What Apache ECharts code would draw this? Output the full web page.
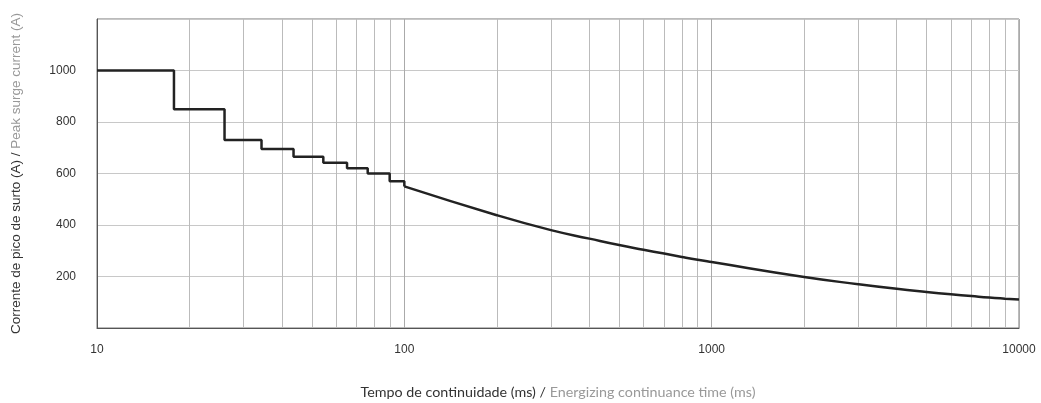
<!DOCTYPE html>
<html>
<head>
<meta charset="utf-8">
<script src="https://cdn.jsdelivr.net/npm/echarts@6/dist/echarts.min.js"></script>
<style>
  html, body { margin: 0; padding: 0; background: #fff; }
  #chart { width: 1041px; height: 403px; }
</style>
</head>
<body>
<div id="chart"></div>
<script>
// staircase part (ms -> A)
const stepTimes = [10, 17.8, 26, 34.3, 43.6, 54.5, 65.1, 76, 89.6, 100];
const stepCurrents = [1000, 850, 730, 695, 665, 642, 620, 600, 570, 550];

// smooth decay after 100 ms
const curveTimes = [100, 200, 300, 400, 500, 600, 700, 800, 900, 1000, 2000, 3000, 4000, 5000, 6000, 7000, 8000, 9000, 10000];
const curveCurrents = [550, 438, 380, 347, 322, 304, 289, 276, 265, 256, 198, 170, 152, 140, 131, 124, 118, 114, 111];

// minor log gridlines
const minorLines = [20, 30, 40, 50, 60, 70, 80, 90, 200, 300, 400, 500, 600, 700, 800, 900,
  2000, 3000, 4000, 5000, 6000, 7000, 8000, 9000];

const xName = 'Tempo de continuidade (ms)';
const xNameEn = 'Energizing continuance time (ms)';
const yName = 'Corrente de pico de surto (A)';
const yNameEn = 'Peak surge current (A)';

const chart = echarts.init(document.getElementById('chart'));
chart.setOption({
  animation: false,
  grid: { left: 97, right: 22, top: 19, bottom: 75, show: true, borderColor: '#777', borderWidth: 1,
    containLabel: false, outerBoundsMode: 'none' },
  xAxis: {
    type: 'log', logBase: 10, min: 10, max: 10000,
    name: '{a|' + xName + ' / }{b|' + xNameEn + '}',
    nameLocation: 'middle', nameGap: 57,
    nameTextStyle: {
      rich: {
        a: { fontFamily: 'Lato', fontSize: 14.3, color: '#333' },
        b: { fontFamily: 'Lato', fontSize: 14.3, color: '#999' }
      }
    },
    axisLine: { lineStyle: { color: '#555' } },
    axisTick: { show: false },
    axisLabel: { margin: 16, fontFamily: 'Liberation Sans', fontSize: 12, color: '#333',
      formatter: v => String(Math.round(v)) },
    splitLine: { show: true, lineStyle: { color: '#aaa', width: 1 } }
  },
  yAxis: {
    type: 'value', min: 0, max: 1200, interval: 200,
    name: '{a|' + yName + ' / }{b|' + yNameEn + '}',
    nameLocation: 'middle', nameGap: 74, nameRotate: 90,
    nameTextStyle: {
      rich: {
        a: { fontFamily: 'Liberation Sans', fontSize: 13.5, color: '#333' },
        b: { fontFamily: 'Liberation Sans', fontSize: 13.5, color: '#999' }
      }
    },
    axisLine: { show: true, lineStyle: { color: '#555' } },
    axisTick: { show: false },
    axisLabel: { margin: 21, fontFamily: 'Liberation Sans', fontSize: 12, color: '#333',
      formatter: v => (v === 0 || v === 1200) ? '' : String(v) },
    splitLine: { show: true, lineStyle: { color: '#c8c8c8', width: 1 } }
  },
  series: [
    {
      type: 'line', step: 'end', showSymbol: false, silent: true,
      lineStyle: { color: '#222', width: 2.5 },
      data: stepTimes.map((t, i) => [t, stepCurrents[i]]),
      markLine: {
        silent: true, symbol: 'none', label: { show: false },
        lineStyle: { color: '#bbb', width: 1, type: 'solid' },
        data: minorLines.map(v => ({ xAxis: v })),
        z: 1
      },
      z: 3
    },
    {
      type: 'line', smooth: 0.5, showSymbol: false, silent: true,
      lineStyle: { color: '#222', width: 2.5 },
      data: curveTimes.map((t, i) => [t, curveCurrents[i]]),
      z: 3
    }
  ]
});
</script>
</body>
</html>
